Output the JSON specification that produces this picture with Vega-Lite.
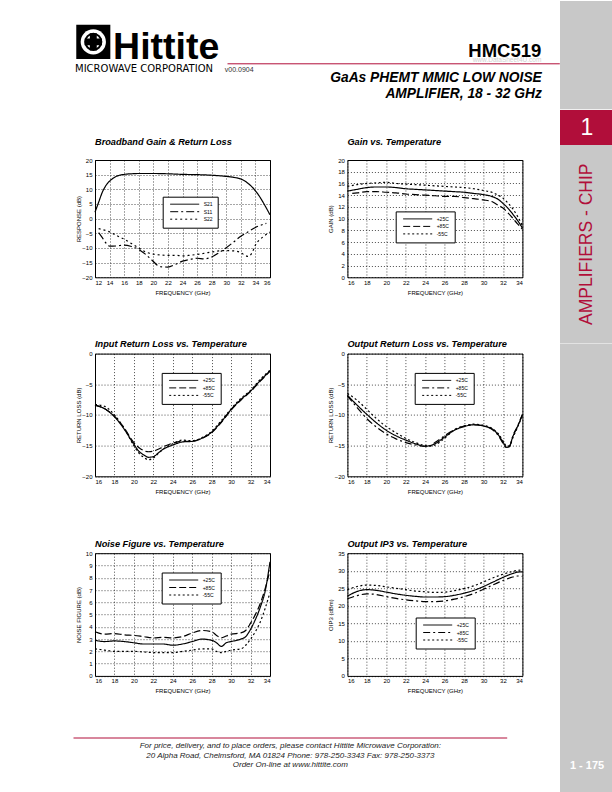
{
  "$schema": "https://vega.github.io/schema/vega-lite/v6.json",
  "padding": {"left": 73, "top": 0, "right": 0, "bottom": 0},
  "background": "white",
  "config": {
    "font": "Liberation Sans",
    "view": {"stroke": "black", "strokeWidth": 1},
    "axis": {"domain": false, "ticks": false, "grid": true, "gridColor": "black", "gridDash": [1, 2], "gridWidth": 0.7, "gridOpacity": 1, "labelFontSize": 6, "labelColor": "black", "titleFontSize": 6, "titleFontWeight": "normal", "titleColor": "black", "labelFont": "Liberation Sans", "titleFont": "Liberation Sans"},
    "axisX": {"labelPadding": 2, "titlePadding": 4},
    "axisY": {"labelPadding": 3, "minExtent": 11, "maxExtent": 11, "titlePadding": 3},
    "title": {"anchor": "start", "frame": "group", "fontSize": 9.2, "fontStyle": "italic", "fontWeight": "bold", "color": "black", "font": "Liberation Sans"},
    "legend": {"orient": "none", "fillColor": "white", "strokeColor": "black", "padding": 5, "symbolStrokeWidth": 1, "symbolStrokeColor": "black", "labelFontSize": 5, "labelOffset": 3, "rowPadding": 1.5, "labelColor": "black", "labelFont": "Liberation Sans"}
  },
  "datasets": {
    "bb": [
      {"f":12,"v":2.2,"s":"S21"},{"f":12.5,"v":5.6,"s":"S21"},{"f":13,"v":9,"s":"S21"},{"f":13.5,"v":11.3,"s":"S21"},{"f":14,"v":12.8,"s":"S21"},{"f":14.5,"v":13.8,"s":"S21"},{"f":15,"v":14.5,"s":"S21"},{"f":16,"v":15.1,"s":"S21"},{"f":17,"v":15.3,"s":"S21"},{"f":18,"v":15.4,"s":"S21"},{"f":20,"v":15.4,"s":"S21"},{"f":22,"v":15.3,"s":"S21"},{"f":24,"v":15.1,"s":"S21"},{"f":26,"v":15.0,"s":"S21"},{"f":28,"v":14.8,"s":"S21"},{"f":30,"v":14.4,"s":"S21"},{"f":31,"v":14.1,"s":"S21"},{"f":32,"v":13.5,"s":"S21"},{"f":32.5,"v":12.9,"s":"S21"},{"f":33,"v":12.0,"s":"S21"},{"f":33.5,"v":10.9,"s":"S21"},{"f":34,"v":9.5,"s":"S21"},{"f":34.5,"v":7.8,"s":"S21"},{"f":35,"v":5.8,"s":"S21"},{"f":35.5,"v":3.6,"s":"S21"},{"f":36,"v":1.3,"s":"S21"},
      {"f":12.5,"v":-4.8,"s":"S11"},{"f":13,"v":-6.5,"s":"S11"},{"f":13.5,"v":-8.3,"s":"S11"},{"f":14,"v":-9.4,"s":"S11"},{"f":15,"v":-9.3,"s":"S11"},{"f":16,"v":-9.0,"s":"S11"},{"f":17,"v":-9.5,"s":"S11"},{"f":18,"v":-10.5,"s":"S11"},{"f":19,"v":-12.3,"s":"S11"},{"f":20,"v":-14.6,"s":"S11"},{"f":20.5,"v":-15.8,"s":"S11"},{"f":21,"v":-16.4,"s":"S11"},{"f":22,"v":-16.5,"s":"S11"},{"f":23,"v":-15.6,"s":"S11"},{"f":24,"v":-14.5,"s":"S11"},{"f":25,"v":-13.9,"s":"S11"},{"f":26,"v":-13.5,"s":"S11"},{"f":27,"v":-13.7,"s":"S11"},{"f":28,"v":-13.1,"s":"S11"},{"f":29,"v":-11.6,"s":"S11"},{"f":30,"v":-9.9,"s":"S11"},{"f":31,"v":-8.0,"s":"S11"},{"f":32,"v":-6.0,"s":"S11"},{"f":33,"v":-4.5,"s":"S11"},{"f":34,"v":-3.0,"s":"S11"},{"f":35,"v":-2.0,"s":"S11"},{"f":35.5,"v":-1.6,"s":"S11"},
      {"f":12.5,"v":-3.4,"s":"S22"},{"f":13,"v":-3.7,"s":"S22"},{"f":14,"v":-4.5,"s":"S22"},{"f":15,"v":-5.8,"s":"S22"},{"f":16,"v":-7.0,"s":"S22"},{"f":17,"v":-8.5,"s":"S22"},{"f":18,"v":-10.0,"s":"S22"},{"f":19,"v":-11.4,"s":"S22"},{"f":20,"v":-12.1,"s":"S22"},{"f":21,"v":-12.4,"s":"S22"},{"f":22,"v":-12.5,"s":"S22"},{"f":23,"v":-12.5,"s":"S22"},{"f":24,"v":-12.7,"s":"S22"},{"f":25,"v":-12.5,"s":"S22"},{"f":26,"v":-12.2,"s":"S22"},{"f":27,"v":-11.8,"s":"S22"},{"f":28,"v":-11.4,"s":"S22"},{"f":29,"v":-11.0,"s":"S22"},{"f":30,"v":-10.9,"s":"S22"},{"f":31,"v":-11.0,"s":"S22"},{"f":32,"v":-11.6,"s":"S22"},{"f":32.5,"v":-12.4,"s":"S22"},{"f":33,"v":-12.9,"s":"S22"},{"f":33.5,"v":-11.8,"s":"S22"},{"f":34,"v":-9.0,"s":"S22"},{"f":35,"v":-6.3,"s":"S22"},{"f":36,"v":-4.6,"s":"S22"}
    ],
    "gain": [
      {"f":16,"v":14.7,"t":"+25C"},{"f":17,"v":15.0,"t":"+25C"},{"f":18,"v":15.3,"t":"+25C"},{"f":19,"v":15.4,"t":"+25C"},{"f":20,"v":15.4,"t":"+25C"},{"f":21,"v":15.3,"t":"+25C"},{"f":22,"v":15.1,"t":"+25C"},{"f":23,"v":15.0,"t":"+25C"},{"f":24,"v":14.9,"t":"+25C"},{"f":25,"v":14.8,"t":"+25C"},{"f":26,"v":14.7,"t":"+25C"},{"f":27,"v":14.6,"t":"+25C"},{"f":28,"v":14.5,"t":"+25C"},{"f":29,"v":14.3,"t":"+25C"},{"f":30,"v":14.1,"t":"+25C"},{"f":31,"v":13.7,"t":"+25C"},{"f":31.5,"v":13.3,"t":"+25C"},{"f":32,"v":12.6,"t":"+25C"},{"f":32.5,"v":11.8,"t":"+25C"},{"f":33,"v":10.8,"t":"+25C"},{"f":33.5,"v":9.7,"t":"+25C"},{"f":34,"v":8.4,"t":"+25C"},
      {"f":16.5,"v":14.3,"t":"+85C"},{"f":17,"v":14.4,"t":"+85C"},{"f":18,"v":14.6,"t":"+85C"},{"f":19,"v":14.6,"t":"+85C"},{"f":20,"v":14.5,"t":"+85C"},{"f":21,"v":14.4,"t":"+85C"},{"f":22,"v":14.2,"t":"+85C"},{"f":23,"v":14.1,"t":"+85C"},{"f":24,"v":14.0,"t":"+85C"},{"f":25,"v":13.9,"t":"+85C"},{"f":26,"v":13.8,"t":"+85C"},{"f":27,"v":13.8,"t":"+85C"},{"f":28,"v":13.6,"t":"+85C"},{"f":29,"v":13.4,"t":"+85C"},{"f":30,"v":13.2,"t":"+85C"},{"f":31,"v":12.8,"t":"+85C"},{"f":31.5,"v":12.3,"t":"+85C"},{"f":32,"v":11.8,"t":"+85C"},{"f":32.5,"v":11.0,"t":"+85C"},{"f":33,"v":10.1,"t":"+85C"},{"f":33.5,"v":9.1,"t":"+85C"},{"f":34,"v":8.2,"t":"+85C"},
      {"f":16,"v":15.5,"t":"-55C"},{"f":17,"v":15.8,"t":"-55C"},{"f":18,"v":16.0,"t":"-55C"},{"f":19,"v":16.1,"t":"-55C"},{"f":20,"v":16.2,"t":"-55C"},{"f":21,"v":16.0,"t":"-55C"},{"f":22,"v":15.9,"t":"-55C"},{"f":23,"v":15.8,"t":"-55C"},{"f":24,"v":15.7,"t":"-55C"},{"f":25,"v":15.6,"t":"-55C"},{"f":26,"v":15.5,"t":"-55C"},{"f":27,"v":15.4,"t":"-55C"},{"f":28,"v":15.3,"t":"-55C"},{"f":29,"v":15.1,"t":"-55C"},{"f":30,"v":14.8,"t":"-55C"},{"f":31,"v":14.4,"t":"-55C"},{"f":31.5,"v":14.0,"t":"-55C"},{"f":32,"v":13.5,"t":"-55C"},{"f":32.5,"v":12.7,"t":"-55C"},{"f":33,"v":11.7,"t":"-55C"},{"f":33.5,"v":10.4,"t":"-55C"},{"f":34,"v":8.8,"t":"-55C"}
    ],
    "irl": [
      {"f":16,"v":-8.4,"t":"+25C"},{"f":17,"v":-9.0,"t":"+25C"},{"f":18,"v":-10.3,"t":"+25C"},{"f":19,"v":-12.3,"t":"+25C"},{"f":20,"v":-14.8,"t":"+25C"},{"f":20.5,"v":-15.9,"t":"+25C"},{"f":21,"v":-16.5,"t":"+25C"},{"f":21.5,"v":-16.9,"t":"+25C"},{"f":22,"v":-16.8,"t":"+25C"},{"f":22.5,"v":-16.2,"t":"+25C"},{"f":23,"v":-15.6,"t":"+25C"},{"f":24,"v":-14.9,"t":"+25C"},{"f":25,"v":-14.4,"t":"+25C"},{"f":26,"v":-14.3,"t":"+25C"},{"f":27,"v":-13.8,"t":"+25C"},{"f":28,"v":-12.8,"t":"+25C"},{"f":29,"v":-11.1,"t":"+25C"},{"f":30,"v":-9.1,"t":"+25C"},{"f":31,"v":-7.5,"t":"+25C"},{"f":32,"v":-6.1,"t":"+25C"},{"f":33,"v":-4.4,"t":"+25C"},{"f":34,"v":-2.8,"t":"+25C"},
      {"f":16,"v":-8.4,"t":"+85C"},{"f":17,"v":-9.0,"t":"+85C"},{"f":18,"v":-10.2,"t":"+85C"},{"f":19,"v":-12.1,"t":"+85C"},{"f":20,"v":-14.5,"t":"+85C"},{"f":20.5,"v":-15.3,"t":"+85C"},{"f":21,"v":-15.8,"t":"+85C"},{"f":21.5,"v":-16.0,"t":"+85C"},{"f":22,"v":-15.9,"t":"+85C"},{"f":22.5,"v":-15.6,"t":"+85C"},{"f":23,"v":-15.2,"t":"+85C"},{"f":24,"v":-14.6,"t":"+85C"},{"f":25,"v":-14.3,"t":"+85C"},{"f":26,"v":-14.3,"t":"+85C"},{"f":27,"v":-13.8,"t":"+85C"},{"f":28,"v":-12.9,"t":"+85C"},{"f":29,"v":-11.2,"t":"+85C"},{"f":30,"v":-9.2,"t":"+85C"},{"f":31,"v":-7.6,"t":"+85C"},{"f":32,"v":-6.2,"t":"+85C"},{"f":33,"v":-4.5,"t":"+85C"},{"f":34,"v":-2.9,"t":"+85C"},
      {"f":16,"v":-8.3,"t":"-55C"},{"f":17,"v":-8.6,"t":"-55C"},{"f":18,"v":-10.0,"t":"-55C"},{"f":19,"v":-12.2,"t":"-55C"},{"f":20,"v":-15.0,"t":"-55C"},{"f":20.5,"v":-16.2,"t":"-55C"},{"f":21,"v":-16.9,"t":"-55C"},{"f":21.5,"v":-17.3,"t":"-55C"},{"f":22,"v":-17.0,"t":"-55C"},{"f":22.5,"v":-16.3,"t":"-55C"},{"f":23,"v":-15.6,"t":"-55C"},{"f":24,"v":-14.7,"t":"-55C"},{"f":25,"v":-14.1,"t":"-55C"},{"f":26,"v":-14.2,"t":"-55C"},{"f":27,"v":-13.7,"t":"-55C"},{"f":28,"v":-12.7,"t":"-55C"},{"f":29,"v":-10.9,"t":"-55C"},{"f":30,"v":-9.0,"t":"-55C"},{"f":31,"v":-7.3,"t":"-55C"},{"f":32,"v":-6.0,"t":"-55C"},{"f":33,"v":-4.2,"t":"-55C"},{"f":34,"v":-2.7,"t":"-55C"}
    ],
    "orl": [
      {"f":16,"v":-6.8,"t":"+25C"},{"f":17,"v":-8.4,"t":"+25C"},{"f":18,"v":-9.9,"t":"+25C"},{"f":19,"v":-11.3,"t":"+25C"},{"f":20,"v":-12.5,"t":"+25C"},{"f":21,"v":-13.4,"t":"+25C"},{"f":22,"v":-14.1,"t":"+25C"},{"f":23,"v":-14.7,"t":"+25C"},{"f":24,"v":-15.1,"t":"+25C"},{"f":24.5,"v":-15.0,"t":"+25C"},{"f":25,"v":-14.7,"t":"+25C"},{"f":26,"v":-13.6,"t":"+25C"},{"f":27,"v":-12.5,"t":"+25C"},{"f":28,"v":-11.9,"t":"+25C"},{"f":29,"v":-11.6,"t":"+25C"},{"f":30,"v":-11.8,"t":"+25C"},{"f":31,"v":-12.4,"t":"+25C"},{"f":31.5,"v":-13.2,"t":"+25C"},{"f":32,"v":-14.4,"t":"+25C"},{"f":32.4,"v":-15.3,"t":"+25C"},{"f":32.7,"v":-15.0,"t":"+25C"},{"f":33,"v":-13.6,"t":"+25C"},{"f":33.5,"v":-11.9,"t":"+25C"},{"f":34,"v":-10.0,"t":"+25C"},
      {"f":16,"v":-6.9,"t":"+85C"},{"f":17,"v":-8.8,"t":"+85C"},{"f":18,"v":-10.6,"t":"+85C"},{"f":19,"v":-12.0,"t":"+85C"},{"f":20,"v":-13.1,"t":"+85C"},{"f":21,"v":-13.9,"t":"+85C"},{"f":22,"v":-14.5,"t":"+85C"},{"f":23,"v":-14.9,"t":"+85C"},{"f":24,"v":-15.1,"t":"+85C"},{"f":24.5,"v":-15.0,"t":"+85C"},{"f":25,"v":-14.5,"t":"+85C"},{"f":26,"v":-13.4,"t":"+85C"},{"f":27,"v":-12.4,"t":"+85C"},{"f":28,"v":-11.8,"t":"+85C"},{"f":29,"v":-11.6,"t":"+85C"},{"f":30,"v":-11.8,"t":"+85C"},{"f":31,"v":-12.5,"t":"+85C"},{"f":31.5,"v":-13.3,"t":"+85C"},{"f":32,"v":-14.6,"t":"+85C"},{"f":32.4,"v":-15.4,"t":"+85C"},{"f":32.7,"v":-15.1,"t":"+85C"},{"f":33,"v":-13.5,"t":"+85C"},{"f":33.5,"v":-11.8,"t":"+85C"},{"f":34,"v":-9.9,"t":"+85C"},
      {"f":16,"v":-6.5,"t":"-55C"},{"f":17,"v":-7.6,"t":"-55C"},{"f":18,"v":-9.1,"t":"-55C"},{"f":19,"v":-10.6,"t":"-55C"},{"f":20,"v":-11.9,"t":"-55C"},{"f":21,"v":-12.9,"t":"-55C"},{"f":22,"v":-13.8,"t":"-55C"},{"f":23,"v":-14.5,"t":"-55C"},{"f":24,"v":-15.0,"t":"-55C"},{"f":24.5,"v":-15.1,"t":"-55C"},{"f":25,"v":-14.9,"t":"-55C"},{"f":26,"v":-13.8,"t":"-55C"},{"f":27,"v":-12.4,"t":"-55C"},{"f":28,"v":-11.8,"t":"-55C"},{"f":29,"v":-11.5,"t":"-55C"},{"f":30,"v":-11.7,"t":"-55C"},{"f":31,"v":-12.3,"t":"-55C"},{"f":31.5,"v":-13.0,"t":"-55C"},{"f":32,"v":-14.2,"t":"-55C"},{"f":32.4,"v":-15.1,"t":"-55C"},{"f":32.7,"v":-15.0,"t":"-55C"},{"f":33,"v":-13.8,"t":"-55C"},{"f":33.5,"v":-12.0,"t":"-55C"},{"f":34,"v":-10.1,"t":"-55C"}
    ],
    "nf": [
      {"f":16,"v":2.9,"t":"+25C"},{"f":17,"v":2.8,"t":"+25C"},{"f":18,"v":2.85,"t":"+25C"},{"f":19,"v":2.8,"t":"+25C"},{"f":20,"v":2.7,"t":"+25C"},{"f":21,"v":2.6,"t":"+25C"},{"f":22,"v":2.6,"t":"+25C"},{"f":23,"v":2.6,"t":"+25C"},{"f":24,"v":2.5,"t":"+25C"},{"f":25,"v":2.6,"t":"+25C"},{"f":26,"v":2.8,"t":"+25C"},{"f":27,"v":3.0,"t":"+25C"},{"f":28,"v":2.9,"t":"+25C"},{"f":28.5,"v":2.7,"t":"+25C"},{"f":29,"v":2.4,"t":"+25C"},{"f":29.5,"v":2.7,"t":"+25C"},{"f":30,"v":2.8,"t":"+25C"},{"f":31,"v":3.0,"t":"+25C"},{"f":31.5,"v":3.2,"t":"+25C"},{"f":32,"v":3.8,"t":"+25C"},{"f":32.5,"v":4.6,"t":"+25C"},{"f":33,"v":5.6,"t":"+25C"},{"f":33.5,"v":6.9,"t":"+25C"},{"f":34,"v":9.3,"t":"+25C"},
      {"f":16,"v":3.6,"t":"+85C"},{"f":17,"v":3.4,"t":"+85C"},{"f":18,"v":3.45,"t":"+85C"},{"f":19,"v":3.35,"t":"+85C"},{"f":20,"v":3.3,"t":"+85C"},{"f":21,"v":3.2,"t":"+85C"},{"f":22,"v":3.1,"t":"+85C"},{"f":23,"v":3.15,"t":"+85C"},{"f":24,"v":3.1,"t":"+85C"},{"f":25,"v":3.2,"t":"+85C"},{"f":26,"v":3.5,"t":"+85C"},{"f":27,"v":3.7,"t":"+85C"},{"f":28,"v":3.6,"t":"+85C"},{"f":28.5,"v":3.3,"t":"+85C"},{"f":29,"v":3.1,"t":"+85C"},{"f":29.5,"v":3.25,"t":"+85C"},{"f":30,"v":3.4,"t":"+85C"},{"f":31,"v":3.5,"t":"+85C"},{"f":31.5,"v":3.7,"t":"+85C"},{"f":32,"v":4.3,"t":"+85C"},{"f":32.5,"v":5.0,"t":"+85C"},{"f":33,"v":5.9,"t":"+85C"},{"f":33.5,"v":7.1,"t":"+85C"},{"f":34,"v":8.6,"t":"+85C"},
      {"f":16,"v":2.2,"t":"-55C"},{"f":17,"v":2.1,"t":"-55C"},{"f":18,"v":2.0,"t":"-55C"},{"f":19,"v":2.0,"t":"-55C"},{"f":20,"v":2.0,"t":"-55C"},{"f":21,"v":1.95,"t":"-55C"},{"f":22,"v":1.9,"t":"-55C"},{"f":23,"v":1.9,"t":"-55C"},{"f":24,"v":1.9,"t":"-55C"},{"f":25,"v":2.0,"t":"-55C"},{"f":26,"v":2.1,"t":"-55C"},{"f":27,"v":2.2,"t":"-55C"},{"f":28,"v":2.2,"t":"-55C"},{"f":28.5,"v":2.0,"t":"-55C"},{"f":29,"v":1.9,"t":"-55C"},{"f":29.5,"v":2.0,"t":"-55C"},{"f":30,"v":2.1,"t":"-55C"},{"f":31,"v":2.2,"t":"-55C"},{"f":31.5,"v":2.5,"t":"-55C"},{"f":32,"v":3.0,"t":"-55C"},{"f":32.5,"v":3.6,"t":"-55C"},{"f":33,"v":4.4,"t":"-55C"},{"f":33.5,"v":5.5,"t":"-55C"},{"f":34,"v":6.8,"t":"-55C"}
    ],
    "ip3": [
      {"f":16,"v":22.7,"t":"+25C"},{"f":17,"v":24.1,"t":"+25C"},{"f":18,"v":24.6,"t":"+25C"},{"f":19,"v":24.4,"t":"+25C"},{"f":20,"v":23.9,"t":"+25C"},{"f":21,"v":23.4,"t":"+25C"},{"f":22,"v":23.0,"t":"+25C"},{"f":23,"v":22.7,"t":"+25C"},{"f":24,"v":22.5,"t":"+25C"},{"f":25,"v":22.5,"t":"+25C"},{"f":26,"v":22.6,"t":"+25C"},{"f":27,"v":23.0,"t":"+25C"},{"f":28,"v":23.6,"t":"+25C"},{"f":29,"v":24.4,"t":"+25C"},{"f":30,"v":25.5,"t":"+25C"},{"f":31,"v":26.8,"t":"+25C"},{"f":32,"v":28.1,"t":"+25C"},{"f":33,"v":29.2,"t":"+25C"},{"f":33.5,"v":29.6,"t":"+25C"},{"f":34,"v":29.7,"t":"+25C"},
      {"f":16,"v":22.0,"t":"+85C"},{"f":17,"v":22.9,"t":"+85C"},{"f":18,"v":23.4,"t":"+85C"},{"f":19,"v":23.2,"t":"+85C"},{"f":20,"v":22.6,"t":"+85C"},{"f":21,"v":22.1,"t":"+85C"},{"f":22,"v":21.7,"t":"+85C"},{"f":23,"v":21.4,"t":"+85C"},{"f":24,"v":21.2,"t":"+85C"},{"f":25,"v":21.2,"t":"+85C"},{"f":26,"v":21.4,"t":"+85C"},{"f":27,"v":21.9,"t":"+85C"},{"f":28,"v":22.6,"t":"+85C"},{"f":29,"v":23.5,"t":"+85C"},{"f":30,"v":24.7,"t":"+85C"},{"f":31,"v":26.0,"t":"+85C"},{"f":32,"v":27.2,"t":"+85C"},{"f":33,"v":28.2,"t":"+85C"},{"f":33.5,"v":28.5,"t":"+85C"},{"f":34,"v":28.4,"t":"+85C"},
      {"f":16,"v":24.6,"t":"-55C"},{"f":17,"v":25.5,"t":"-55C"},{"f":18,"v":25.9,"t":"-55C"},{"f":19,"v":25.8,"t":"-55C"},{"f":20,"v":25.4,"t":"-55C"},{"f":21,"v":25.0,"t":"-55C"},{"f":22,"v":24.6,"t":"-55C"},{"f":23,"v":24.2,"t":"-55C"},{"f":24,"v":24.0,"t":"-55C"},{"f":25,"v":23.8,"t":"-55C"},{"f":26,"v":23.9,"t":"-55C"},{"f":27,"v":24.3,"t":"-55C"},{"f":28,"v":24.9,"t":"-55C"},{"f":29,"v":25.7,"t":"-55C"},{"f":30,"v":26.8,"t":"-55C"},{"f":31,"v":28.0,"t":"-55C"},{"f":32,"v":29.0,"t":"-55C"},{"f":33,"v":29.8,"t":"-55C"},{"f":33.5,"v":30.1,"t":"-55C"},{"f":34,"v":30.2,"t":"-55C"}
    ]
  },
  "resolve": {"scale": {"strokeDash": "independent"}, "legend": {"strokeDash": "independent"}},
  "hconcat": [
    {
      "spacing": 19,
      "resolve": {"scale": {"strokeDash": "independent"}, "legend": {"strokeDash": "independent"}},
      "vconcat": [
        {
          "hconcat": [
            {
              "width": 40.6, "height": 81.7, "view": {"stroke": null},
              "data": {"values": [{"k": "logo"}]},
              "layer": [
                {"mark": {"type": "square", "size": 1160, "color": "black", "opacity": 1}, "encoding": {}},
                {"mark": {"type": "circle", "size": 640, "color": "white", "opacity": 1}, "encoding": {}},
                {"mark": {"type": "point", "shape": "circle", "size": 260, "filled": false, "color": "black", "strokeWidth": 2, "opacity": 1}, "encoding": {}},
                {"mark": {"type": "point", "shape": "cross", "size": 300, "filled": true, "color": "black", "opacity": 1}, "encoding": {}}
              ],
              "title": {"text": "MICROWAVE CORPORATION", "orient": "bottom", "anchor": "start", "frame": "group", "offset": -19, "dx": 2, "fontSize": 10, "font": "DejaVu Sans", "fontStyle": "normal", "fontWeight": "normal", "color": "black"}
            },
            {
              "width": 104.4, "height": 116.6, "view": {"stroke": null},
              "data": {"values": [{"t": "Hittite"}]},
              "mark": {"type": "text", "font": "Liberation Sans", "fontWeight": "bold", "fontSize": 37.5, "baseline": "alphabetic", "align": "center", "color": "black"},
              "encoding": {"text": {"field": "t", "type": "nominal"}}
            },
            {
              "width": 7.7, "height": 10, "view": {"stroke": null},
              "data": {"values": [{"g": ""}]},
              "mark": {"type": "text"},
              "encoding": {"text": {"field": "g", "type": "nominal"}}
            },
            {
              "width": 332.3, "height": 62.3, "view": {"stroke": null},
              "data": {"values": [{"a": 0}]},
              "mark": {"type": "point", "opacity": 0, "size": 0},
              "encoding": {
                "x": {"field": "a", "type": "quantitative", "scale": {"domain": [0, 1]}, "axis": {"domain": true, "domainColor": "#b10e3a", "domainWidth": 1, "labels": false, "ticks": false, "grid": false, "title": ["GaAs PHEMT MMIC LOW NOISE", "AMPLIFIER, 18 - 32 GHz"], "titleFontSize": 13.8, "titleFontStyle": "italic", "titleFontWeight": "bold", "titleAlign": "right", "titleX": 314.3, "titleLineHeight": 16.7, "titlePadding": 7, "titleBaseline": "top"}},
                "y": {"field": "a", "type": "quantitative", "scale": {"domain": [0, 1]}, "axis": {"domain": false, "labels": false, "ticks": false, "grid": false, "title": "v00.0904", "titleAngle": 0, "titleAlign": "left", "titleBaseline": "middle", "titleX": -2.7, "titleY": 68.3, "titleFontSize": 7, "titleColor": "#333333", "minExtent": 0, "maxExtent": 0}}
              },
              "title": {"text": "HMC519", "subtitle": "www.DataSheet4U.com", "orient": "top", "anchor": "end", "frame": "group", "offset": -62, "dx": -18, "fontSize": 18.5, "fontStyle": "normal", "fontWeight": "bold", "subtitleFontSize": 6.5, "subtitleColor": "#d0d0d0", "subtitlePadding": -4}
            }
          ],
          "spacing": 0,
          "bounds": "flush"
        },
        {
          "spacing": 43.6,
          "resolve": {"scale": {"strokeDash": "independent"}, "legend": {"strokeDash": "independent"}},
          "vconcat": [
            {
              "spacing": 0,
              "resolve": {"scale": {"strokeDash": "independent"}, "legend": {"strokeDash": "independent"}},
              "hconcat": [
                {"width": 1, "height": 1, "view": {"stroke": null}, "data": {"values": [{"g": ""}]}, "mark": {"type": "text"}, "encoding": {"text": {"field": "g", "type": "nominal"}}},
                {
                  "spacing": 53.4,
                  "resolve": {"scale": {"strokeDash": "independent"}, "legend": {"strokeDash": "independent"}},
                  "hconcat": [
                    {
                      "width": 175, "height": 117.3,
                      "title": {"text": "Broadband Gain & Return Loss", "offset": 9.5},
                      "data": {"name": "bb"},
                      "mark": {"type": "line", "interpolate": "monotone", "strokeWidth": 1.2, "color": "black"},
                      "encoding": {
                        "x": {"field": "f", "type": "quantitative", "scale": {"domain": [12, 36], "nice": false}, "axis": {"values": [12,14,16,18,20,22,24,26,28,30,32,34,36], "title": "FREQUENCY (GHz)"}},
                        "y": {"field": "v", "type": "quantitative", "scale": {"domain": [-20, 20], "nice": false}, "axis": {"values": [-20,-15,-10,-5,0,5,10,15,20], "title": "RESPONSE (dB)"}},
                        "strokeDash": {"field": "s", "type": "nominal", "scale": {"domain": ["S21","S11","S22"], "range": [[1,0],[8,3,2,3],[2,3]]}, "legend": {"title": null, "legendX": 67.7, "legendY": 36.7, "symbolType": "M-28,0H1", "symbolSize": 4, "symbolOffset": 28}}
                      }
                    },
                    {
                      "width": 175, "height": 117.3,
                      "title": {"text": "Gain vs. Temperature", "offset": 9.5},
                      "data": {"name": "gain"},
                      "mark": {"type": "line", "interpolate": "monotone", "strokeWidth": 1.2, "color": "black"},
                      "encoding": {
                        "x": {"field": "f", "type": "quantitative", "scale": {"domain": [16, 34], "nice": false}, "axis": {"values": [16,18,20,22,24,26,28,30,32,34], "title": "FREQUENCY (GHz)"}},
                        "y": {"field": "v", "type": "quantitative", "scale": {"domain": [0, 20], "nice": false}, "axis": {"values": [0,2,4,6,8,10,12,14,16,18,20], "title": "GAIN (dB)"}},
                        "strokeDash": {"field": "t", "type": "nominal", "scale": {"domain": ["+25C","+85C","-55C"], "range": [[1,0],[7,3],[2,2.5]]}, "legend": {"title": null, "legendX": 48.3, "legendY": 51.4, "symbolType": "M-28,0H1", "symbolSize": 4, "symbolOffset": 28}}
                      }
                    }
                  ]
                }
              ]
            },
            {
              "spacing": 0,
              "resolve": {"scale": {"strokeDash": "independent"}, "legend": {"strokeDash": "independent"}},
              "hconcat": [
                {"width": 1, "height": 1, "view": {"stroke": null}, "data": {"values": [{"g": ""}]}, "mark": {"type": "text"}, "encoding": {"text": {"field": "g", "type": "nominal"}}},
                {
                  "spacing": 53.4,
                  "resolve": {"scale": {"strokeDash": "independent"}, "legend": {"strokeDash": "independent"}},
                  "hconcat": [
                    {
                      "width": 175, "height": 122.7,
                      "title": {"text": "Input Return Loss vs. Temperature", "offset": 1},
                      "data": {"name": "irl"},
                      "mark": {"type": "line", "interpolate": "monotone", "strokeWidth": 1.2, "color": "black"},
                      "encoding": {
                        "x": {"field": "f", "type": "quantitative", "scale": {"domain": [16, 34], "nice": false}, "axis": {"values": [16,18,20,22,24,26,28,30,32,34], "title": "FREQUENCY (GHz)"}},
                        "y": {"field": "v", "type": "quantitative", "scale": {"domain": [-20, 0], "nice": false}, "axis": {"values": [-20,-15,-10,-5,0], "title": "RETURN LOSS (dB)"}},
                        "strokeDash": {"field": "t", "type": "nominal", "scale": {"domain": ["+25C","+85C","-55C"], "range": [[1,0],[7,3],[2,2.5]]}, "legend": {"title": null, "legendX": 66.7, "legendY": 19.3, "symbolType": "M-28,0H1", "symbolSize": 4, "symbolOffset": 28}}
                      }
                    },
                    {
                      "width": 175, "height": 122.7,
                      "title": {"text": "Output Return Loss vs. Temperature", "offset": 1},
                      "data": {"name": "orl"},
                      "mark": {"type": "line", "interpolate": "monotone", "strokeWidth": 1.2, "color": "black"},
                      "encoding": {
                        "x": {"field": "f", "type": "quantitative", "scale": {"domain": [16, 34], "nice": false}, "axis": {"values": [16,18,20,22,24,26,28,30,32,34], "title": "FREQUENCY (GHz)"}},
                        "y": {"field": "v", "type": "quantitative", "scale": {"domain": [-20, 0], "nice": false}, "axis": {"values": [-20,-15,-10,-5,0], "title": "RETURN LOSS (dB)"}},
                        "strokeDash": {"field": "t", "type": "nominal", "scale": {"domain": ["+25C","+85C","-55C"], "range": [[1,0],[7,3,2,3],[2,2.5]]}, "legend": {"title": null, "legendX": 67.3, "legendY": 19.3, "symbolType": "M-28,0H1", "symbolSize": 4, "symbolOffset": 28}}
                      }
                    }
                  ]
                }
              ]
            },
            {
              "spacing": 0,
              "resolve": {"scale": {"strokeDash": "independent"}, "legend": {"strokeDash": "independent"}},
              "hconcat": [
                {"width": 1, "height": 1, "view": {"stroke": null}, "data": {"values": [{"g": ""}]}, "mark": {"type": "text"}, "encoding": {"text": {"field": "g", "type": "nominal"}}},
                {
                  "spacing": 53.4,
                  "resolve": {"scale": {"strokeDash": "independent"}, "legend": {"strokeDash": "independent"}},
                  "hconcat": [
                    {
                      "width": 175, "height": 122.7,
                      "title": {"text": "Noise Figure vs. Temperature", "offset": 1},
                      "data": {"name": "nf"},
                      "mark": {"type": "line", "interpolate": "monotone", "strokeWidth": 1.2, "color": "black"},
                      "encoding": {
                        "x": {"field": "f", "type": "quantitative", "scale": {"domain": [16, 34], "nice": false}, "axis": {"values": [16,18,20,22,24,26,28,30,32,34], "title": "FREQUENCY (GHz)"}},
                        "y": {"field": "v", "type": "quantitative", "scale": {"domain": [0, 10], "nice": false}, "axis": {"values": [0,1,2,3,4,5,6,7,8,9,10], "title": "NOISE FIGURE (dB)"}},
                        "strokeDash": {"field": "t", "type": "nominal", "scale": {"domain": ["+25C","+85C","-55C"], "range": [[1,0],[7,3],[2,2.5]]}, "legend": {"title": null, "legendX": 66.7, "legendY": 19.3, "symbolType": "M-28,0H1", "symbolSize": 4, "symbolOffset": 28}}
                      }
                    },
                    {
                      "width": 175, "height": 122.7,
                      "title": {"text": "Output IP3 vs. Temperature", "offset": 1},
                      "data": {"name": "ip3"},
                      "mark": {"type": "line", "interpolate": "monotone", "strokeWidth": 1.2, "color": "black"},
                      "encoding": {
                        "x": {"field": "f", "type": "quantitative", "scale": {"domain": [16, 34], "nice": false}, "axis": {"values": [16,18,20,22,24,26,28,30,32,34], "title": "FREQUENCY (GHz)"}},
                        "y": {"field": "v", "type": "quantitative", "scale": {"domain": [0, 35], "nice": false}, "axis": {"values": [0,5,10,15,20,25,30,35], "title": "OIP3 (dBm)"}},
                        "strokeDash": {"field": "t", "type": "nominal", "scale": {"domain": ["+25C","+85C","-55C"], "range": [[1,0],[7,3,2,3],[2,2.5]]}, "legend": {"title": null, "legendX": 68.3, "legendY": 64.3, "symbolType": "M-28,0H1", "symbolSize": 4, "symbolOffset": 28}}
                      }
                    }
                  ]
                }
              ]
            }
          ]
        },
        {
          "width": 433.7, "height": 23.5, "view": {"stroke": null},
          "data": {"values": [{"a": 0}]},
          "mark": {"type": "point", "opacity": 0, "size": 0},
          "encoding": {
            "x": {"field": "a", "type": "quantitative", "scale": {"domain": [0, 1]}, "axis": {"domain": true, "domainColor": "#b10e3a", "domainWidth": 1, "labels": false, "ticks": false, "grid": false, "title": ["For price, delivery, and to place orders, please contact Hittite Microwave Corporation:", "20 Alpha Road, Chelmsford, MA 01824  Phone: 978-250-3343  Fax: 978-250-3373", "Order On-line at www.hittite.com"], "titleFontSize": 8, "titleFontStyle": "italic", "titleFontWeight": "normal", "titleColor": "#222222", "titleLineHeight": 9.5, "titlePadding": 4}}
          }
        }
      ]
    },
    {
      "vconcat": [
        {"width": 54, "height": 108.3, "view": {"fill": "#c8c8c8", "stroke": null}, "data": {"values": [{"t": ""}]}, "mark": {"type": "text"}, "encoding": {"text": {"field": "t", "type": "nominal"}}},
        {"width": 54, "height": 35, "view": {"fill": "#b10e3a", "stroke": null}, "data": {"values": [{"t": "1"}]}, "mark": {"type": "text", "color": "white", "fontSize": 23, "baseline": "middle", "font": "Liberation Sans"}, "encoding": {"text": {"field": "t", "type": "nominal"}}},
        {"width": 54, "height": 198.4, "view": {"fill": "#c8c8c8", "stroke": null}, "data": {"values": [{"t": "AMPLIFIERS - CHIP"}]}, "mark": {"type": "text", "color": "#b10e3a", "fontSize": 17.5, "angle": 270, "baseline": "middle", "font": "Liberation Sans"}, "encoding": {"text": {"field": "t", "type": "nominal"}}},
        {"width": 54, "height": 393, "view": {"fill": "#c8c8c8", "stroke": null}, "data": {"values": [{"t": ""}]}, "mark": {"type": "text"}, "encoding": {"text": {"field": "t", "type": "nominal"}}},
        {"width": 54, "height": 57.3, "view": {"fill": "#c8c8c8", "stroke": null}, "data": {"values": [{"t": "1 - 175"}]}, "mark": {"type": "text", "color": "white", "fontSize": 11, "fontWeight": "bold", "baseline": "middle", "font": "Liberation Sans"}, "encoding": {"text": {"field": "t", "type": "nominal"}}}
      ],
      "spacing": 0,
      "bounds": "flush"
    }
  ],
  "spacing": 0
}
